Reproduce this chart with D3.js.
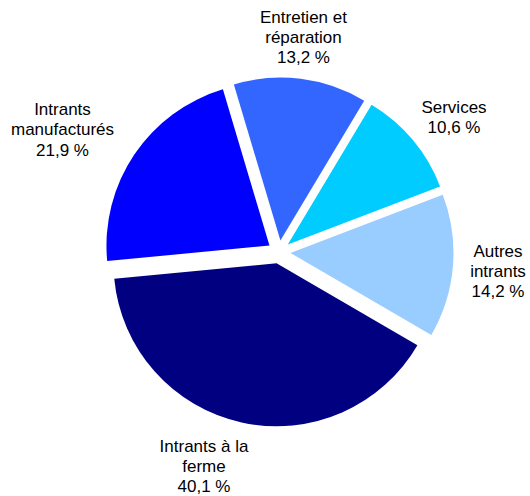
<!DOCTYPE html>
<html>
<head>
<meta charset="utf-8">
<script src="https://cdn.jsdelivr.net/npm/d3@7/dist/d3.min.js"></script>
<style>
  html, body { margin: 0; padding: 0; background: #fff; }
  svg { display: block; }
  text { font-family: "Liberation Sans", Arial, sans-serif; font-size: 17px; fill: #000; }
</style>
</head>
<body>
<svg id="chart" width="530" height="496"></svg>
<script>
// ---- data ----
const categories = ["Entretien et réparation", "Services", "Autres intrants", "Intrants à la ferme", "Intrants manufacturés"];
const labelLines = [["Entretien et", "réparation"], ["Services"], ["Autres", "intrants"], ["Intrants à la", "ferme"], ["Intrants", "manufacturés"]];
const shares = [13.2, 10.6, 14.2, 40.1, 21.9];
const colors = ["#3366FF", "#00CCFF", "#99CCFF", "#000080", "#0000FF"];

// ---- layout ----
const W = 530, H = 496;
const cx = 279, cy = 252;
const radius = 163;
const explode = 11.5;
const startDeg = -16.6;
const lineH = 20.3;
// label block anchor: center x, first baseline y
const labelPos = [[303.5, 22.5], [454, 112.7], [498, 256.5], [204, 451.5], [62.5, 115]];

const svg = d3.select("#chart");
const g = svg.append("g").attr("transform", `translate(${cx},${cy})`);

const start = startDeg * Math.PI / 180;
const pie = d3.pie().sort(null).value(d => d).startAngle(start).endAngle(start + 2 * Math.PI);
const arcs = pie(shares);
const arc = d3.arc().innerRadius(0).outerRadius(radius);

g.selectAll("path.slice")
  .data(arcs)
  .join("path")
  .attr("class", "slice")
  .attr("d", arc)
  .attr("fill", (d, i) => colors[i])
  .attr("transform", d => {
    const a = (d.startAngle + d.endAngle) / 2;
    return `translate(${explode * Math.sin(a)},${-explode * Math.cos(a)})`;
  });

const fmt = v => d3.format(".1f")(v).replace(".", ",") + " %";

const labels = svg.selectAll("text.lbl")
  .data(arcs)
  .join("text")
  .attr("class", "lbl")
  .attr("text-anchor", "middle");

labels.each(function(d, i) {
  const t = d3.select(this);
  const lines = labelLines[i].concat([fmt(shares[i])]);
  const [x, y] = labelPos[i];
  lines.forEach((ln, k) => {
    t.append("tspan").attr("x", x).attr("y", y + k * lineH).text(ln);
  });
});
</script>
</body>
</html>
